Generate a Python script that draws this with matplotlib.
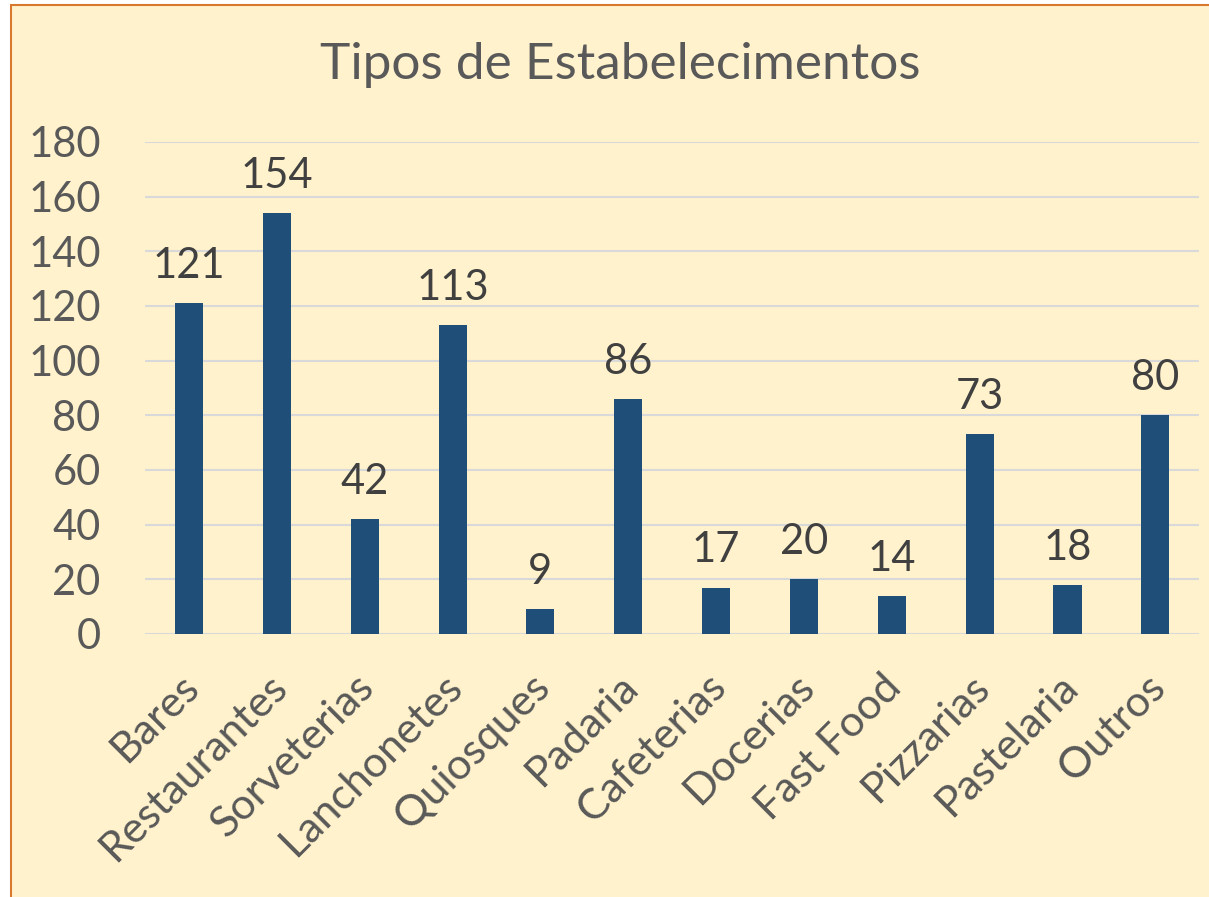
import matplotlib
matplotlib.use('Agg')
import matplotlib.pyplot as plt
import matplotlib.transforms as mtransforms
from matplotlib.patches import Rectangle

categories = ["Bares", "Restaurantes", "Sorveterias", "Lanchonetes", "Quiosques",
              "Padaria", "Cafeterias", "Docerias", "Fast Food", "Pizzarias",
              "Pastelaria", "Outros"]
values = [121, 154, 42, 113, 9, 86, 17, 20, 14, 73, 18, 80]
y_ticks = [0, 20, 40, 60, 80, 100, 120, 140, 160, 180]
title = "Tipos de Estabelecimentos"

bg = "#FFF2CC"
bar_color = "#1F4E79"
text_color = "#595959"

plt.rcParams['font.family'] = ['Lato', 'DejaVu Sans']

fig = plt.figure(figsize=(12.09, 8.97), dpi=100)
fig.patch.set_facecolor("white")
# chart area background with orange border (cropped at right/bottom)
fig.patches.append(Rectangle((11 / 1209, -0.01), 1.1, 1 - 5 / 897 + 0.01,
                             transform=fig.transFigure, facecolor=bg,
                             edgecolor="#D7792F", linewidth=1.5, zorder=-10))

ax = fig.add_axes([0.120, 0.2932, 0.872, 0.5485])
ax.set_facecolor("none")
x = list(range(len(categories)))
ax.bar(x, values, width=0.32, color=bar_color, zorder=3)

for xi, v in zip(x, values):
    ax.annotate(str(v), (xi, v), xytext=(0, 13), textcoords="offset points",
                ha="center", va="bottom", fontsize=30, color="#404040")

ax.set_xlim(-0.5, len(categories) - 0.5)
ax.set_ylim(0, 180)
ax.set_yticks(y_ticks)
ax.yaxis.grid(True, color="#D9D9D9", linewidth=1.5, zorder=0)
ax.set_axisbelow(True)
for s in ax.spines.values():
    s.set_visible(False)
ax.tick_params(axis="y", length=0, labelsize=30, colors=text_color, pad=32)
ax.set_xticks(x)
ax.set_xticklabels(categories, rotation=45, ha="right", rotation_mode="anchor")
ax.tick_params(axis="x", length=0, labelsize=31, colors=text_color, pad=24)
shift = mtransforms.ScaledTranslation(-10 / 100, 0, fig.dpi_scale_trans)
for lbl in ax.get_xticklabels():
    lbl.set_transform(lbl.get_transform() + shift)

fig.text(0.513, 0.928, title, ha="center", va="center", fontsize=37, color=text_color)

plt.savefig("out.png", dpi=100, facecolor=fig.get_facecolor())
